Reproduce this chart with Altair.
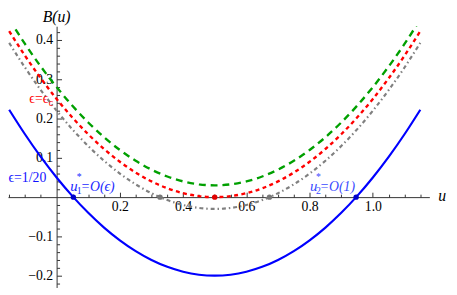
import altair as alt
import pandas as pd

# ---------------- data ----------------
u_vals = [-0.15, -0.10, -0.05, 0.00, 0.05, 0.10, 0.15, 0.20, 0.25, 0.30, 0.35, 0.40, 0.45,
          0.50, 0.55, 0.60, 0.65, 0.70, 0.75, 0.80, 0.85, 0.90, 0.95, 1.00, 1.05, 1.10, 1.15]

blue_B = [0.2225, 0.16, 0.1025, 0.05, 0.0025, -0.04, -0.0775, -0.11, -0.1375, -0.16, -0.1775,
          -0.19, -0.1975, -0.2, -0.1975, -0.19, -0.1775, -0.16, -0.1375, -0.11, -0.0775, -0.04,
          0.0025, 0.05, 0.1025, 0.16, 0.2225]
red_B = [0.4225, 0.36, 0.3025, 0.25, 0.2025, 0.16, 0.1225, 0.09, 0.0625, 0.04, 0.0225, 0.01,
         0.0025, 0.0, 0.0025, 0.01, 0.0225, 0.04, 0.0625, 0.09, 0.1225, 0.16, 0.2025, 0.25,
         0.3025, 0.36, 0.4225]
green_B = [0.4525, 0.39, 0.3325, 0.28, 0.2325, 0.19, 0.1525, 0.12, 0.0925, 0.07, 0.0525, 0.04,
           0.0325, 0.03, 0.0325, 0.04, 0.0525, 0.07, 0.0925, 0.12, 0.1525, 0.19, 0.2325, 0.28,
           0.3325, 0.39, 0.4525]
gray_B = [0.3925, 0.33, 0.2725, 0.22, 0.1725, 0.13, 0.0925, 0.06, 0.0325, 0.01, -0.0075, -0.02,
          -0.0275, -0.03, -0.0275, -0.02, -0.0075, 0.01, 0.0325, 0.06, 0.0925, 0.13, 0.1725,
          0.22, 0.2725, 0.33, 0.3925]

# marked roots
pt_u = [0.053, 0.947, 0.5, 0.327, 0.673]
pt_B = [0.0, 0.0, 0.0, 0.0, 0.0]
pt_col = ["#0000cc", "#0000cc", "#e00000", "#777777", "#777777"]

# tick values / labels
x_major = [0.2, 0.4, 0.6, 0.8, 1.0]
x_minor = [-0.15, -0.1, -0.05, 0.05, 0.1, 0.15, 0.25, 0.3, 0.35, 0.45, 0.5, 0.55, 0.65,
           0.7, 0.75, 0.85, 0.9, 0.95, 1.05, 1.1, 1.15]
y_major = [-0.2, -0.1, 0.1, 0.2, 0.3, 0.4]
y_minor = [-0.22, -0.18, -0.16, -0.14, -0.12, -0.08, -0.06, -0.04, -0.02, 0.02, 0.04, 0.06,
           0.08, 0.12, 0.14, 0.16, 0.18, 0.22, 0.24, 0.26, 0.28, 0.32, 0.34, 0.36, 0.38, 0.42]

# annotations
ann_txt = ["ϵ=1/20", "c", "1", "*", "2", "*",
           "u", "=O(ϵ)", "u", "=O(1)", "u",
           "ϵ=ϵ", "B(u)"]
ann_u = [-0.152, -0.0248, 0.0637, 0.0637, 0.8199, 0.8199,
         0.0435, 0.0761, 0.8012, 0.8323, 1.2065,
         -0.0264, 0.0]
ann_B = [0.0375, 0.2325, 0.0075, 0.0425, 0.0075, 0.0425,
         0.015, 0.015, 0.015, 0.015, -0.01,
         0.24, 0.445]
ann_size = [14, 10, 10, 10, 10, 10,
            15, 14, 15, 14, 16,
            14, 16]
ann_col = ["#1010ff", "#ff0000", "#1a2aff", "#1a2aff", "#3a4cff", "#3a4cff",
           "#1a2aff", "#1a2aff", "#3a4cff", "#3a4cff", "#000000",
           "#ff0000", "#000000"]
ann_grp = ["ln", "ln", "ln", "ln", "ln", "ln",
           "li", "li", "li", "li", "li",
           "rn", "ci"]

# ---------------- build ----------------
def curve(vals):
    return pd.DataFrame({"u": u_vals, "B": vals})

df_pts = pd.DataFrame({"u": pt_u, "B": pt_B, "col": pt_col})
df_ann = pd.DataFrame({"txt": ann_txt, "u": ann_u, "B": ann_B, "fs": ann_size,
                       "col": ann_col, "grp": ann_grp})

W, H = 429, 266
xs = alt.Scale(domain=[-0.1537, 1.1786], nice=False, zero=False)
ys = alt.Scale(domain=[-0.23, 0.435], nice=False, zero=False)
AXC = "#333333"
FONT = "'Liberation Serif', 'Times New Roman', 'DejaVu Serif', serif"

common = dict(grid=False, title=None, domainColor=AXC, tickColor=AXC, domainWidth=1, tickWidth=1)

ax_x_major = alt.Axis(orient="top", offset=-174, values=x_major, labels=False, tickSize=5,
                      domain=True, **common)
ax_x_minor = alt.Axis(orient="top", offset=-174, values=x_minor, labels=False, tickSize=3,
                      domain=False, **common)
ax_x_lab = alt.Axis(orient="bottom", offset=-92, values=x_major, ticks=False, domain=False,
                    labelPadding=3, format=".1f", labelFont=FONT, labelFontSize=14,
                    labelColor="black", labelFlush=False, labelOverlap=False,
                    grid=False, title=None)
ax_y_major = alt.Axis(orient="right", offset=-379.5, values=y_major, labels=False, tickSize=5,
                      domain=True, **common)
ax_y_minor = alt.Axis(orient="right", offset=-379.5, values=y_minor, labels=False, tickSize=3,
                      domain=False, **common)
ax_y_lab = alt.Axis(orient="left", offset=-49.5, values=y_major, ticks=False, domain=False,
                    labelPadding=4, format=".1f", labelFont=FONT, labelFontSize=14,
                    labelColor="black", labelFlush=False, labelOverlap=False,
                    grid=False, title=None)

gray = alt.Chart(curve(gray_B)).mark_line(
    color="#808080", strokeWidth=2.2, strokeDash=[4, 3, 1.5, 3], interpolate="natural", clip=True
).encode(x=alt.X("u:Q", scale=xs, axis=ax_x_major), y=alt.Y("B:Q", scale=ys, axis=ax_y_major))

green = alt.Chart(curve(green_B)).mark_line(
    color="#00a000", strokeWidth=2.4, strokeDash=[7, 5], interpolate="natural", clip=True
).encode(x=alt.X("u:Q", scale=xs, axis=ax_x_minor), y=alt.Y("B:Q", scale=ys, axis=ax_y_minor))

red = alt.Chart(curve(red_B)).mark_line(
    color="#ff0000", strokeWidth=2.4, strokeDash=[4, 3.5], interpolate="natural", clip=True
).encode(x=alt.X("u:Q", scale=xs, axis=ax_x_lab), y=alt.Y("B:Q", scale=ys, axis=ax_y_lab))

blue = alt.Chart(curve(blue_B)).mark_line(
    color="#0000ff", strokeWidth=2.2, interpolate="natural", clip=True
).encode(x=alt.X("u:Q", scale=xs, axis=None), y=alt.Y("B:Q", scale=ys, axis=None))

pts = alt.Chart(df_pts).mark_circle(size=30, opacity=1).encode(
    x=alt.X("u:Q", scale=xs, axis=None), y=alt.Y("B:Q", scale=ys, axis=None),
    color=alt.Color("col:N", scale=None))


def ann(grp, align, style):
    return alt.Chart(df_ann).transform_filter(alt.datum.grp == grp).mark_text(
        align=align, baseline="alphabetic", font=FONT, fontStyle=style
    ).encode(
        x=alt.X("u:Q", scale=xs, axis=None), y=alt.Y("B:Q", scale=ys, axis=None),
        text="txt:N", color=alt.Color("col:N", scale=None), size=alt.Size("fs:Q", scale=None))


chart = alt.layer(
    gray, green, red, blue, pts,
    ann("ln", "left", "normal"), ann("li", "left", "italic"),
    ann("rn", "right", "normal"), ann("ci", "center", "italic"),
).resolve_axis(x="independent", y="independent").properties(
    width=W, height=H,
    autosize=alt.AutoSizeParams(type="none"),
    padding={"left": 0, "top": 16, "right": 20, "bottom": 0},
    background="white",
).configure_view(stroke=None)

chart.save("out.html", embed_options={"renderer": "svg", "actions": False})
